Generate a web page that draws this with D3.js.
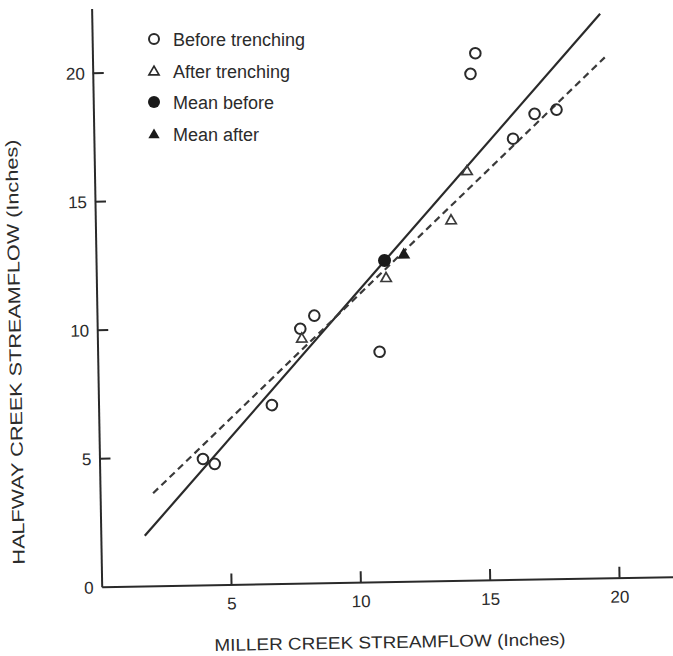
<!DOCTYPE html>
<html>
<head>
<meta charset="utf-8">
<script src="https://cdn.jsdelivr.net/npm/d3@7"></script>
<style>
  html, body { margin: 0; padding: 0; background: #fff; }
  svg { display: block; }
  text { font-family: "Liberation Sans", Arial, Helvetica, sans-serif; fill: #2b2b2b; }
</style>
</head>
<body>
<svg id="chart" width="673" height="656"></svg>
<script>
// Miller Creek vs. Halfway Creek annual streamflow (inches)
const beforeX = [4.0, 4.45, 6.7, 7.85, 8.4, 10.9, 14.6, 14.8, 16.2, 17.05, 17.9];
const beforeY = [4.9, 4.7, 6.95, 9.9, 10.4, 8.95, 19.7, 20.5, 17.15, 18.1, 18.25];
const afterX = [7.9, 11.2, 13.75, 14.4];
const afterY = [9.5, 11.8, 14.0, 15.9];
const meanBefore = [11.15, 12.5];
const meanAfter = [11.9, 12.7];
// regression line end points (x, y)
const beforeFitX = [1.7, 19.65];
const beforeFitY = [1.95, 21.95];
const afterFitX = [2.05, 19.8];
const afterFitY = [3.6, 20.25];
const xTicks = [5, 10, 15, 20];
const yTicks = [0, 5, 10, 15, 20];
const legendLabels = ["Before trenching", "After trenching", "Mean before", "Mean after"];

const ink = "#2a2a2a";
const ox = 101.7, oy = 586.7;
const svg = d3.select("#chart");

const x = d3.scaleLinear().domain([0, 22.4]).range([ox, ox + 22.4 * 25.87]);
const y = d3.scaleLinear().domain([0, 22.5]).range([oy, oy - 22.5 * 25.7]);

// the plotting frame sits at a slight tilt
const g = svg.append("g").attr("transform", `rotate(-1, ${ox}, ${oy})`);

// x axis: ticks point up into the plot, no zero label
const xAxis = g.append("g").attr("transform", `translate(0,${oy})`)
  .call(d3.axisBottom(x).tickValues(xTicks).tickSize(-11).tickPadding(0).tickSizeOuter(0));
xAxis.select(".domain").attr("stroke", ink).attr("stroke-width", 2);
xAxis.selectAll(".tick line").attr("stroke", ink).attr("stroke-width", 2);
xAxis.selectAll(".tick text").attr("y", 25).attr("dy", "0").attr("font-size", 17).attr("fill", ink)
  .style("font-family", "'Liberation Sans', Arial, sans-serif");

// y axis: ticks point right into the plot
const yAxis = g.append("g").attr("transform", `translate(${ox},0)`)
  .call(d3.axisLeft(y).tickValues(yTicks).tickSize(-11).tickPadding(0).tickSizeOuter(0));
yAxis.select(".domain").attr("stroke", ink).attr("stroke-width", 2);
yAxis.selectAll(".tick line").attr("stroke", ink).attr("stroke-width", 2)
  .attr("display", d => d === 0 ? "none" : null);
yAxis.selectAll(".tick text").attr("x", -8).attr("dy", "0.36em").attr("font-size", 17).attr("fill", ink)
  .style("font-family", "'Liberation Sans', Arial, sans-serif");

// fitted lines
const line = d3.line().x(d => x(d[0])).y(d => y(d[1]));
g.append("path").datum(d3.zip(beforeFitX, beforeFitY)).attr("d", line)
  .attr("fill", "none").attr("stroke", ink).attr("stroke-width", 2.2);
g.append("path").datum(d3.zip(afterFitX, afterFitY)).attr("d", line)
  .attr("fill", "none").attr("stroke", "#3a3a3a").attr("stroke-width", 2.2)
  .attr("stroke-dasharray", "7,4.5");

const tri = d3.symbol().type(d3.symbolTriangle);

// before-trenching points
g.append("g").selectAll("circle").data(d3.zip(beforeX, beforeY)).join("circle")
  .attr("cx", d => x(d[0])).attr("cy", d => y(d[1])).attr("r", 5.3)
  .attr("fill", "none").attr("stroke", ink).attr("stroke-width", 2);

// after-trenching points
g.append("g").selectAll("path").data(d3.zip(afterX, afterY)).join("path")
  .attr("transform", d => `translate(${x(d[0])},${y(d[1])})`)
  .attr("d", tri.size(46)).attr("fill", "none").attr("stroke", "#3a3a3a").attr("stroke-width", 1.7);

// means
g.append("circle").attr("cx", x(meanBefore[0])).attr("cy", y(meanBefore[1])).attr("r", 6.5).attr("fill", "#1a1a1a");
g.append("path").attr("transform", `translate(${x(meanAfter[0])},${y(meanAfter[1])})`)
  .attr("d", tri.size(72)).attr("fill", "#1a1a1a");

// axis titles
svg.append("text").attr("transform", "translate(390,648) rotate(-1)")
  .attr("text-anchor", "middle").attr("font-size", 17).attr("textLength", 351).attr("lengthAdjust", "spacingAndGlyphs")
  .text("MILLER CREEK STREAMFLOW (Inches)");
svg.append("text").attr("transform", "translate(21,352) rotate(-91)")
  .attr("text-anchor", "middle").attr("font-size", 17).attr("textLength", 425).attr("lengthAdjust", "spacingAndGlyphs")
  .text("HALFWAY CREEK STREAMFLOW (Inches)");

// legend
const lg = svg.append("g");
const ly = [39, 71, 102, 134];
lg.append("circle").attr("cx", 154).attr("cy", ly[0]).attr("r", 5).attr("fill", "none").attr("stroke", ink).attr("stroke-width", 2);
lg.append("path").attr("transform", `translate(154,${ly[1] + 1})`).attr("d", tri.size(44)).attr("fill", "none").attr("stroke", ink).attr("stroke-width", 1.7);
lg.append("circle").attr("cx", 154).attr("cy", ly[2]).attr("r", 6).attr("fill", "#1a1a1a");
lg.append("path").attr("transform", `translate(154,${ly[3] + 1})`).attr("d", tri.size(55)).attr("fill", "#1a1a1a");
lg.selectAll("text").data(legendLabels).join("text")
  .attr("x", 173).attr("y", (d, i) => ly[i] + 6.5).attr("font-size", 18)
  .text(d => d);
</script>
</body>
</html>
